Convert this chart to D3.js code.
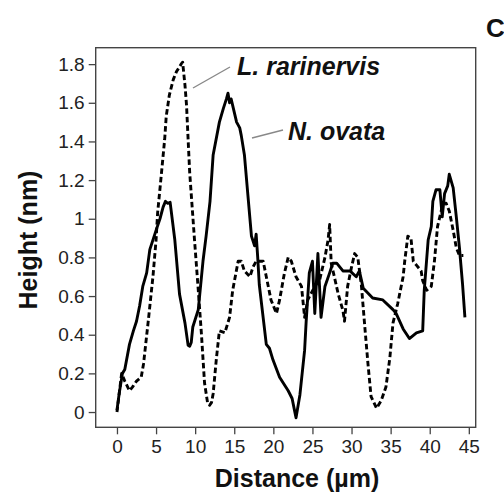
<!DOCTYPE html>
<html><head><meta charset="utf-8">
<script src="https://cdn.jsdelivr.net/npm/d3@7"></script>
<style>body{margin:0;background:#fff}svg{display:block}</style>
</head><body>
<script>
// N. ovata height profile (solid): [distance µm, height nm]
const ovataProfile = [[0,0.01],[0.3,0.1],[0.7,0.2],[1.0,0.22],[1.6,0.35],[2.1,0.42],[2.5,0.47],[2.9,0.55],[3.3,0.65],[3.8,0.72],[4.2,0.84],[5.0,0.94],[5.5,1.0],[5.9,1.06],[6.2,1.09],[6.5,1.08],[6.8,1.085],[7.4,0.89],[8.0,0.61],[8.7,0.46],[9.1,0.345],[9.3,0.34],[9.5,0.36],[9.7,0.44],[10.4,0.53],[11.0,0.78],[11.4,0.91],[11.9,1.09],[12.3,1.33],[13.1,1.5],[13.6,1.57],[14.0,1.62],[14.2,1.65],[14.4,1.6],[14.6,1.62],[15.3,1.5],[15.7,1.47],[15.9,1.43],[16.3,1.33],[16.75,1.12],[17.2,0.91],[17.6,0.86],[17.8,0.92],[18.0,0.8],[18.2,0.66],[19.1,0.35],[19.5,0.33],[19.95,0.27],[20.8,0.18],[21.9,0.11],[22.4,0.07],[22.7,0.01],[22.9,-0.03],[23.4,0.09],[24.0,0.32],[24.2,0.47],[24.6,0.72],[25.0,0.78],[25.3,0.51],[25.7,0.82],[26.1,0.49],[26.6,0.65],[27.2,0.72],[27.6,0.77],[28.1,0.77],[28.9,0.73],[29.8,0.73],[30.6,0.70],[31.0,0.73],[31.5,0.64],[32.7,0.59],[34.0,0.58],[35.3,0.53],[35.7,0.51],[36.6,0.43],[37.4,0.38],[38.3,0.41],[39.1,0.42],[39.3,0.63],[39.8,0.89],[40.2,0.96],[40.4,1.09],[40.8,1.15],[41.3,1.15],[41.6,1.01],[41.9,1.13],[42.3,1.17],[42.5,1.23],[43.0,1.16],[43.4,1.01],[43.8,0.85],[44.2,0.66],[44.5,0.49]];
// L. rarinervis height profile (dashed)
const rarinervisProfile = [[0,0.0],[0.3,0.1],[0.6,0.2],[1.0,0.16],[1.6,0.11],[2.0,0.13],[2.5,0.16],[3.1,0.18],[3.4,0.25],[4.0,0.47],[4.6,0.70],[5.0,0.89],[5.2,1.03],[5.7,1.24],[6.1,1.41],[6.3,1.53],[6.7,1.64],[7.2,1.72],[7.6,1.76],[8.2,1.80],[8.4,1.81],[8.7,1.69],[8.9,1.585],[9.1,1.41],[9.3,1.24],[9.6,1.07],[9.9,0.90],[10.4,0.63],[10.8,0.405],[11.2,0.15],[11.6,0.045],[11.85,0.035],[12.1,0.05],[12.3,0.095],[12.7,0.27],[13.1,0.42],[13.8,0.41],[14.4,0.49],[14.8,0.63],[15.5,0.78],[15.9,0.78],[16.3,0.73],[17.0,0.70],[17.4,0.75],[17.8,0.78],[18.7,0.78],[19.1,0.70],[19.7,0.58],[20.4,0.51],[20.8,0.58],[21.4,0.715],[21.9,0.80],[22.3,0.78],[22.9,0.70],[23.6,0.65],[24.0,0.49],[24.4,0.58],[25.3,0.65],[25.9,0.68],[26.6,0.80],[27.0,0.89],[27.2,0.97],[27.4,0.77],[27.8,0.70],[28.3,0.61],[28.9,0.525],[29.1,0.47],[29.5,0.65],[30.0,0.75],[30.4,0.82],[30.8,0.80],[31.25,0.66],[31.7,0.44],[32.1,0.25],[32.5,0.08],[33.2,0.02],[33.8,0.06],[34.4,0.13],[34.9,0.28],[35.3,0.46],[35.9,0.56],[36.6,0.70],[36.8,0.78],[37.2,0.91],[37.6,0.90],[37.9,0.78],[38.3,0.76],[38.9,0.73],[39.1,0.68],[39.6,0.63],[40.2,0.65],[40.6,0.78],[41.0,0.96],[41.7,1.08],[42.1,1.08],[42.5,1.04],[43.0,0.94],[43.4,0.85],[43.8,0.81],[44.3,0.81]];
const xTicks = [0,5,10,15,20,25,30,35,40,45];
const yTicks = [0,0.2,0.4,0.6,0.8,1,1.2,1.4,1.6,1.8];
const seriesLabels = ["L. rarinervis","N. ovata"];
const panelLabel = "C";
const xTitle = "Distance (µm)";
const yTitle = "Height (nm)";

const W=504,H=494;
const L=95.7,R=475.7,T=47.7,B=427.3;
const svg=d3.select("body").append("svg").attr("width",W).attr("height",H);
const x=d3.scaleLinear().domain([-2.72,45.88]).range([L,R]);
const y=d3.scaleLinear().domain([-0.079,1.885]).range([B,T]);
const font="'Liberation Sans', Arial, sans-serif";

const xAxis=svg.append("g").attr("transform",`translate(0,${B})`)
  .call(d3.axisBottom(x).tickValues(xTicks).tickSize(7).tickPadding(5).tickFormat(d3.format("d")));
const yAxis=svg.append("g").attr("transform",`translate(${L},0)`)
  .call(d3.axisLeft(y).tickValues(yTicks).tickSize(7).tickPadding(4).tickFormat(d=>String(+d.toFixed(1))));
[xAxis,yAxis].forEach(g=>{
  g.select(".domain").remove();
  g.selectAll(".tick line").attr("stroke","#444").attr("stroke-width",1.3);
  g.selectAll(".tick text").attr("font-family",font).attr("font-size",19).attr("fill","#222");
});
svg.append("rect").attr("x",L).attr("y",T).attr("width",R-L).attr("height",B-T)
  .attr("fill","none").attr("stroke","#444").attr("stroke-width",1.4);

const line=d3.line().x(d=>x(d[0])).y(d=>y(d[1]));
svg.append("path").datum(rarinervisProfile).attr("d",line).attr("fill","none")
  .attr("stroke","#000").attr("stroke-width",2.9).attr("stroke-dasharray","5.5,3").attr("stroke-linejoin","round");
svg.append("path").datum(ovataProfile).attr("d",line).attr("fill","none")
  .attr("stroke","#000").attr("stroke-width",2.9).attr("stroke-linejoin","round");

// leader lines & labels
svg.append("line").attr("x1",193).attr("y1",88).attr("x2",230).attr("y2",67).attr("stroke","#888").attr("stroke-width",1.4);
svg.append("line").attr("x1",252).attr("y1",138).attr("x2",283).attr("y2",130).attr("stroke","#888").attr("stroke-width",1.4);
svg.append("text").attr("x",237).attr("y",75).text(seriesLabels[0])
  .attr("font-family",font).attr("font-size",25).attr("font-weight","bold").attr("font-style","italic").attr("fill","#111");
svg.append("text").attr("x",288).attr("y",140).text(seriesLabels[1])
  .attr("font-family",font).attr("font-size",25).attr("font-weight","bold").attr("font-style","italic").attr("fill","#111");
svg.append("text").attr("x",486).attr("y",37).text(panelLabel)
  .attr("font-family",font).attr("font-size",26).attr("font-weight","bold").attr("fill","#111");

svg.append("text").attr("x",297).attr("y",487).attr("text-anchor","middle").text(xTitle)
  .attr("font-family",font).attr("font-size",25).attr("font-weight","bold").attr("fill","#111");
svg.append("text").attr("transform","translate(37,240) rotate(-90)").attr("text-anchor","middle").text(yTitle)
  .attr("font-family",font).attr("font-size",25).attr("font-weight","bold").attr("fill","#111");
</script>
</body></html>
